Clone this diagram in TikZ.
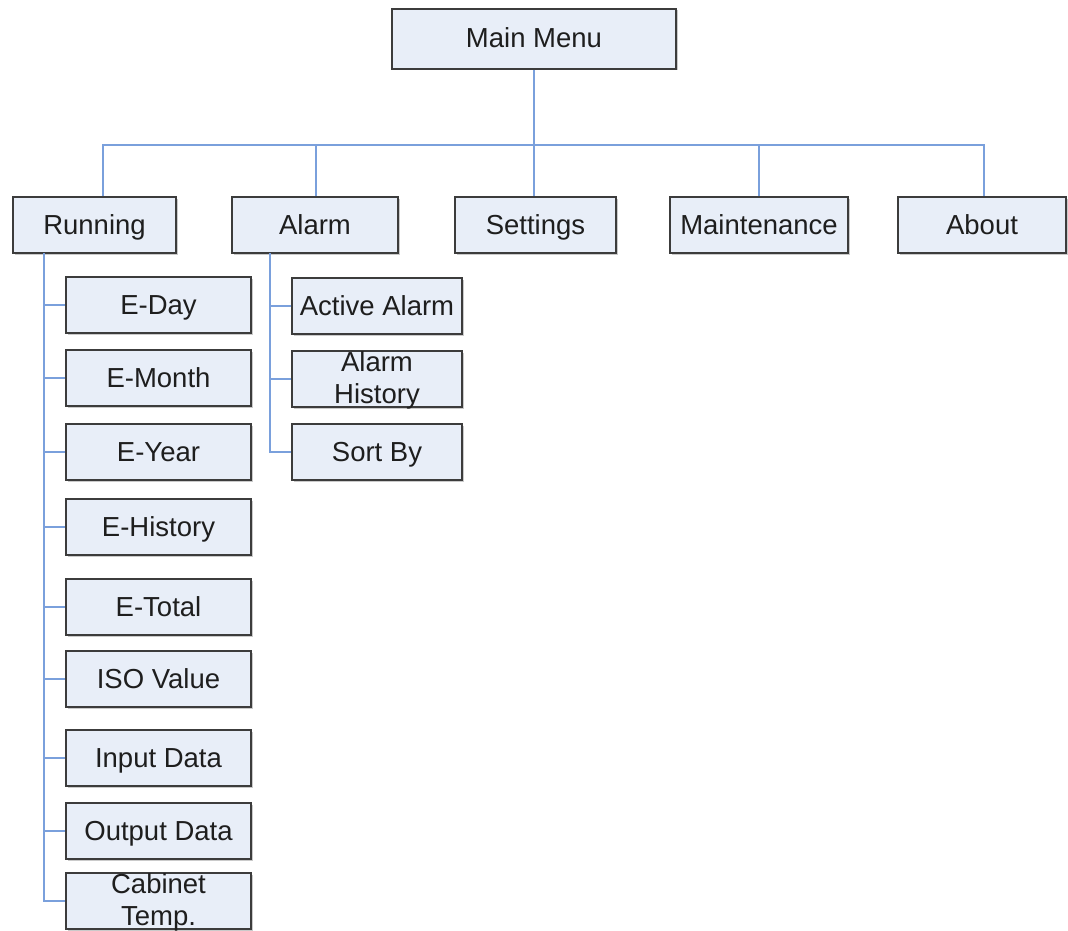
\documentclass[tikz,border=0pt]{standalone}
\usepackage{fontspec}
\setmainfont{Liberation Sans}
\usetikzlibrary{shadows}
\definecolor{boxfill}{RGB}{232,238,248}
\definecolor{boxline}{RGB}{60,60,60}
\definecolor{conncol}{RGB}{122,160,220}
\definecolor{txtcol}{RGB}{30,30,30}
\begin{document}
\begin{tikzpicture}[x=1pt,y=-1pt,
  box/.style={draw=boxline,line width=1.8pt,fill=boxfill,minimum height=56pt,inner sep=0pt,
    text=txtcol,align=center,font=\fontsize{27.5}{32}\selectfont,
    text height=24pt,text depth=6pt,
    drop shadow={shadow xshift=1.5pt,shadow yshift=-1.5pt,fill=black!35,opacity=0.6}},
  twoline/.style={text height=52pt,text depth=4pt},
  conn/.style={draw=conncol,line width=1.6pt}]
\useasboundingbox (0,0) rectangle (1068,931);
% top
\node[box,minimum width=284pt,minimum height=60pt] (main) at (534,39) {Main Menu};
% level 1
\node[box,minimum width=163pt] (running) at (94.5,225) {Running};
\node[box,minimum width=166pt] (alarm) at (315,225) {Alarm};
\node[box,minimum width=161pt] (settings) at (535.5,225) {Settings};
\node[box,minimum width=178pt] (maint) at (759,225) {Maintenance};
\node[box,minimum width=168pt] (about) at (982,225) {About};
% running children
\node[box,minimum width=185pt] (eday) at (158.5,305) {E-Day};
\node[box,minimum width=185pt] (emonth) at (158.5,378) {E-Month};
\node[box,minimum width=185pt] (eyear) at (158.5,452) {E-Year};
\node[box,minimum width=185pt] (ehist) at (158.5,527) {E-History};
\node[box,minimum width=185pt] (etotal) at (158.5,607) {E-Total};
\node[box,minimum width=185pt] (iso) at (158.5,679) {ISO Value};
\node[box,minimum width=185pt] (input) at (158.5,758) {Input Data};
\node[box,minimum width=185pt] (output) at (158.5,831) {Output Data};
\node[box,twoline,minimum width=185pt] (cab) at (158.5,901) {Cabinet\\Temp.};
% alarm children
\node[box,minimum width=170pt] (active) at (377,306) {Active Alarm};
\node[box,twoline,minimum width=170pt] (ahist) at (377,379) {Alarm\\History};
\node[box,minimum width=170pt] (sortby) at (377,452) {Sort By};
% connectors
\coordinate (bus) at (534,145);
\coordinate (rtrunk) at (44,253);
\coordinate (atrunk) at (270,253);
\draw[conn] (main.south) -- (main.south |- settings.north);
\draw[conn] ([xshift=8.5pt]running.north) |- ([xshift=2pt]about.north |- bus) -- ([xshift=2pt]about.north);
\draw[conn] ([xshift=1pt]alarm.north) -- ([xshift=1pt]alarm.north |- bus);
\draw[conn] (maint.north) -- (maint.north |- bus);
\draw[conn] (rtrunk) |- (cab.west);
\foreach \n in {eday,emonth,eyear,ehist,etotal,iso,input,output}
  \draw[conn] (rtrunk |- \n.west) -- (\n.west);
\draw[conn] (atrunk) |- (sortby.west);
\foreach \n in {active,ahist}
  \draw[conn] (atrunk |- \n.west) -- (\n.west);
\end{tikzpicture}
\end{document}
